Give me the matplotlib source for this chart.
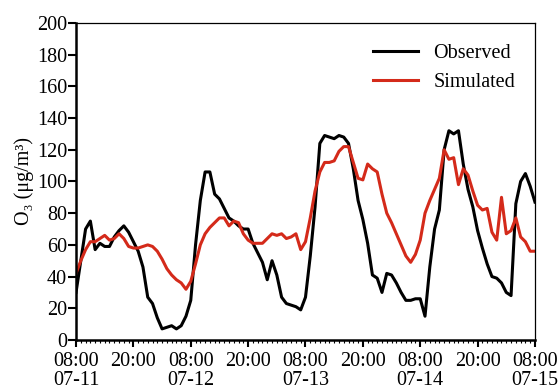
#!/usr/bin/env python3
"""
Observed vs simulated hourly O3, 07-11 08:00 to 07-15 08:00
"""

import matplotlib
matplotlib.use('Agg')
import matplotlib.pyplot as plt
from matplotlib.ticker import MultipleLocator
import numpy as np

# hourly values, hour 0 = 07-11 08:00
observed = [30, 50, 70, 75, 57, 61, 59, 59, 65, 69, 72, 68,
            62, 56, 46, 27, 23, 14, 7, 8, 9, 7, 9, 15,
            25, 60, 88, 106, 106, 92, 89, 83, 77, 75, 72, 70,
            70, 61, 55, 49, 38, 50, 41, 27, 23, 22, 21, 19,
            27, 53, 84, 124, 129, 128, 127, 129, 128, 124, 108, 88,
            76, 61, 41, 39, 30, 42, 41, 36, 30, 25, 25, 26,
            26, 15, 46, 70, 82, 120, 132, 130, 132, 111, 95, 84,
            69, 58, 48, 40, 39, 36, 30, 28, 86, 100, 105, 97,
            87]
simulated = [42, 50, 57, 62, 62, 64, 66, 63, 64, 67, 64, 59,
             58, 58, 59, 60, 59, 56, 51, 45, 41, 38, 36, 32,
             37, 48, 60, 67, 71, 74, 77, 77, 72, 75, 74, 67,
             63, 61, 61, 61, 64, 67, 66, 67, 64, 65, 67, 57,
             62, 77, 94, 106, 112, 112, 113, 119, 122, 122, 112, 102,
             101, 111, 108, 106, 92, 80, 74, 67, 60, 53, 49, 54,
             63, 80, 88, 95, 102, 120, 114, 115, 98, 108, 104, 94,
             85, 82, 83, 68, 63, 90, 67, 69, 77, 65, 62, 56,
             56]
tick_labels = ['08:00\n07-11', '20:00', '08:00\n07-12', '20:00', '08:00\n07-13',
               '20:00', '08:00\n07-14', '20:00', '08:00\n07-15']

plt.rcParams['font.family'] = ['Liberation Serif', 'DejaVu Serif']
plt.rcParams['font.size'] = 14.5

hours = np.arange(len(observed))

fig = plt.figure(figsize=(5.59, 3.89), dpi=100)
ax = fig.add_axes([0.136, 0.126, 0.821, 0.815])

ax.plot(hours, observed, color='black', linewidth=2.2, label='Observed')
ax.plot(hours, simulated, color='#d42a1a', linewidth=2.2, label='Simulated')

ax.set_xlim(0, 96)
ax.set_ylim(0, 200)
ax.set_xticks(np.arange(0, 97, 12))
ax.set_xticklabels(tick_labels, linespacing=1.0)
ax.xaxis.set_minor_locator(MultipleLocator(1))
ax.set_yticks(np.arange(0, 201, 20))

for s in ['left', 'bottom']:
    ax.spines[s].set_linewidth(1.8)
for s in ['top', 'right']:
    ax.spines[s].set_linewidth(0.9)

ax.tick_params(axis='y', which='major', length=5.5, width=1.5, direction='out', pad=1)
ax.tick_params(axis='x', which='major', length=5, width=1.5, direction='out', pad=3.5)
ax.tick_params(axis='x', which='minor', length=2.5, width=0.8, direction='out')

ax.set_ylabel('O₃ (μg/m³)', labelpad=2)

ax.legend(loc='upper left', bbox_to_anchor=(373 / 559, 345 / 389),
          bbox_transform=fig.transFigure, frameon=False, fontsize=14.5,
          handlelength=2.25, handletextpad=0.75, labelspacing=0.5,
          borderpad=0, borderaxespad=0)

plt.savefig('out.png', dpi=100)
